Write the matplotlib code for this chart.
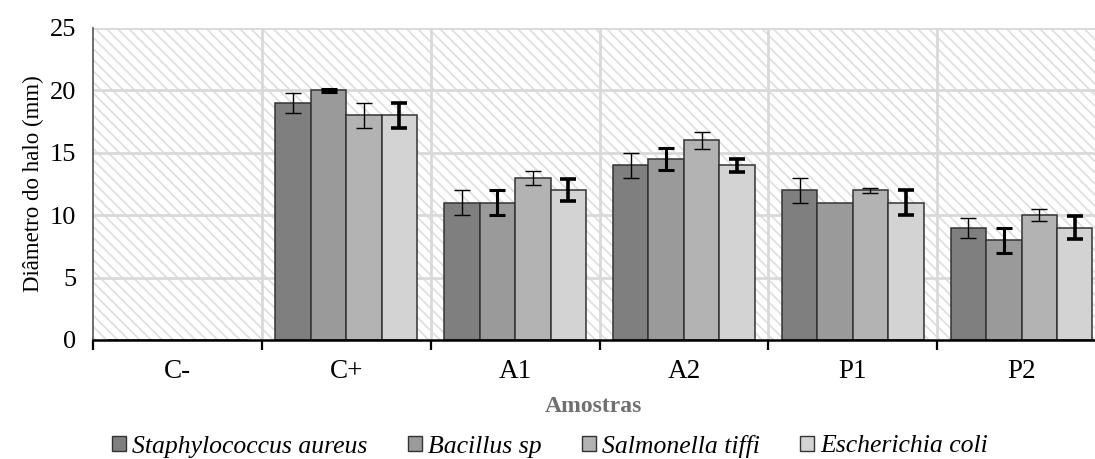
import numpy as np
import matplotlib.pyplot as plt
from matplotlib.patches import Rectangle

plt.rcParams['font.family'] = ['Liberation Serif', 'DejaVu Serif']
plt.rcParams['hatch.linewidth'] = 1.3

amostras = ["C-", "C+", "A1", "A2", "P1", "P2"]
especies = ["Staphylococcus aureus", "Bacillus sp", "Salmonella tiffi", "Escherichia coli"]

s_aureus = [0, 19, 11, 14, 12, 9]
bacillus = [0, 20, 11, 14.5, 11, 8]
salmonella = [0, 18, 13, 16, 12, 10]
e_coli = [0, 18, 12, 14, 11, 9]

err_s_aureus = [0, 0.8, 1.0, 1.0, 1.0, 0.8]
err_bacillus = [0, 0.1, 1.0, 0.9, 0, 1.0]
err_salmonella = [0, 1.0, 0.55, 0.7, 0.2, 0.5]
err_e_coli = [0, 1.0, 0.9, 0.5, 1.0, 0.9]

valores = [s_aureus, bacillus, salmonella, e_coli]
erros = [err_s_aureus, err_bacillus, err_salmonella, err_e_coli]
cores = ['#7f7f7f', '#9a9a9a', '#b3b3b3', '#d3d3d3']
err_lw = [1.0, 2.2, 1.0, 2.6]

fig = plt.figure(figsize=(10.95, 4.59), dpi=100)
ax = fig.add_axes([93/1095, 1 - 340/459, 1013/1095, 312/459])

# fundo hachurado
ax.add_patch(Rectangle((0, 0), 1, 1, transform=ax.transAxes, facecolor='white',
                       edgecolor='#e0e0e0', hatch='\\\\\\', lw=0, zorder=0))

x = np.arange(len(amostras))
w = 0.21
for i, (v, e) in enumerate(zip(valores, erros)):
    pos = x + (i - 1.5) * w
    ax.bar(pos, v, width=w, color=cores[i], edgecolor='#333333', linewidth=1.1,
           label=especies[i], zorder=3)
    e = np.array(e, dtype=float)
    m = e > 0
    ax.errorbar(pos[m], np.array(v)[m], yerr=e[m], fmt='none', ecolor='black',
                elinewidth=err_lw[i], capsize=6, capthick=err_lw[i], zorder=4)

ax.set_xlim(-0.5, len(amostras) - 0.5)
ax.set_ylim(0, 25)
ax.set_yticks([0, 5, 10, 15, 20, 25])
ax.set_xticks(x)
ax.set_xticklabels(amostras)
ax.set_xticks(np.arange(-0.5, len(amostras)), minor=True)
ax.tick_params(axis='x', which='major', length=0, labelsize=19.5, pad=14)
ax.tick_params(axis='x', which='minor', length=7, width=1.6, color='black', direction='out')
ax.tick_params(axis='y', length=0, labelsize=19, pad=12)

for yv in [5, 10, 15, 20, 25]:
    ax.axhline(yv, color='#d9d9d9', lw=2, zorder=1)
for xv in np.arange(0.5, len(amostras) - 0.5):
    ax.axvline(xv, color='#d9d9d9', lw=2, zorder=1)

for s in ['top', 'right']:
    ax.spines[s].set_visible(False)
ax.spines['left'].set_color('#555555')
ax.spines['left'].set_linewidth(1.2)
ax.spines['bottom'].set_color('black')
ax.spines['bottom'].set_linewidth(1.8)
ax.spines['bottom'].set_zorder(5)

ax.set_ylabel("Diâmetro do halo (mm)", fontsize=16.5, labelpad=4)
fig.text(593/1095, 1 - 407/459, "Amostras", ha='center', va='center',
         fontsize=17, fontweight='bold', color='#707070')

leg = fig.legend(loc='center', bbox_to_anchor=(550/1095, 1 - 446/459), ncol=4,
                 frameon=False, prop={'style': 'italic', 'size': 18.5},
                 handlelength=0.55, handleheight=0.55, handletextpad=0.25,
                 columnspacing=1.55)
for h in leg.legend_handles:
    h.set_linewidth(1.0)

fig.savefig('out.png', dpi=100)
